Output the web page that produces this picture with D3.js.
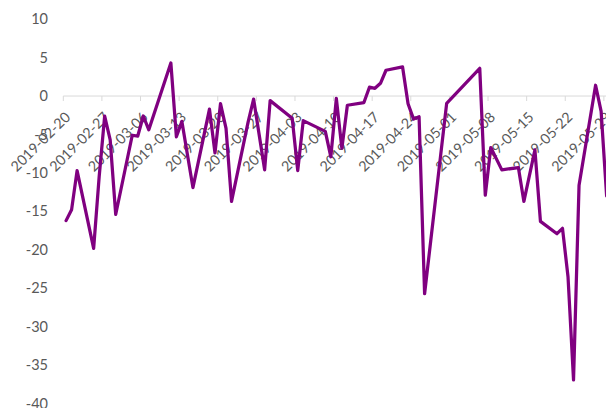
<!DOCTYPE html>
<meta charset="utf-8">
<style>
  body { margin: 0; background: #fff; }
  svg { display: block; }
</style>
<script src="https://d3js.org/d3.v7.min.js"></script>
<div id="chart"></div>
<script>
// data (daily values, trading days)
var dates = ["2019-02-20","2019-02-21","2019-02-22","2019-02-25","2019-02-26","2019-02-27","2019-02-28","2019-03-01",
  "2019-03-04","2019-03-05","2019-03-06","2019-03-07","2019-03-11","2019-03-12","2019-03-13","2019-03-15",
  "2019-03-18","2019-03-19","2019-03-20","2019-03-21","2019-03-22","2019-03-25","2019-03-26","2019-03-28","2019-03-29",
  "2019-04-02","2019-04-03","2019-04-04","2019-04-08","2019-04-09","2019-04-10","2019-04-11","2019-04-12",
  "2019-04-15","2019-04-16","2019-04-17","2019-04-18","2019-04-19","2019-04-22","2019-04-23","2019-04-24","2019-04-25","2019-04-26",
  "2019-04-30","2019-05-06","2019-05-07","2019-05-08","2019-05-10","2019-05-13","2019-05-14","2019-05-16","2019-05-17",
  "2019-05-20","2019-05-21","2019-05-22","2019-05-23","2019-05-24","2019-05-27","2019-05-28","2019-05-29"];
var values = [-16.2,-14.8,-9.7,-19.8,-10.5,-2.6,-5.7,-15.4,
  -5.1,-5.2,-2.6,-4.4,4.3,-5.3,-3.3,-11.9,
  -1.7,-7.4,-1.0,-4.2,-13.7,-3.4,-0.4,-9.6,-0.6,
  -2.9,-9.7,-3.2,-4.6,-7.9,-0.3,-6.8,-1.2,
  -0.85,1.15,1.0,1.65,3.35,3.8,-1.0,-3.0,-2.7,-25.7,
  -0.95,3.6,-12.9,-6.7,-9.6,-9.3,-13.7,-7.0,-16.3,
  -17.9,-17.2,-23.5,-36.9,-11.6,1.4,-2.0,-13.0];
var tickDates = ["2019-02-20","2019-02-27","2019-03-06","2019-03-13","2019-03-20","2019-03-27","2019-04-03",
  "2019-04-10","2019-04-17","2019-04-24","2019-05-01","2019-05-08","2019-05-15","2019-05-22","2019-05-29"];
var yTicks = [10, 5, 0, -5, -10, -15, -20, -25, -30, -35, -40];

var W = 606, H = 408;
var parse = d3.timeParse("%Y-%m-%d");
var halfDay = 12 * 3600 * 1000;

var svg = d3.select("#chart").append("svg")
  .attr("width", W).attr("height", H);

// x: date axis, one slot per day, points in the middle of the slot
var x = d3.scaleTime()
  .domain([parse("2019-02-20"), parse("2019-05-30")])
  .range([63.3, 63.3 + 99 * 5.516]);

var y = d3.scaleLinear()
  .domain([-40, 10])
  .range([403.7, 19.1]);

var font = "Lato, 'Open Sans', sans-serif";

// y labels
svg.append("g").selectAll("text")
  .data(yTicks)
  .enter().append("text")
    .attr("x", 48)
    .attr("y", function(d) { return y(d); })
    .attr("dy", "0.35em")
    .attr("text-anchor", "end")
    .attr("font-family", font)
    .attr("font-size", 14.5)
    .attr("fill", "#595959")
    .text(function(d) { return d; });

// category axis sitting at zero
var y0 = y(0);
svg.append("line")
  .attr("x1", x.range()[0]).attr("x2", x.range()[1])
  .attr("y1", y0).attr("y2", y0)
  .attr("stroke", "#d9d9d9").attr("stroke-width", 1);

var ticks = tickDates.map(parse);
svg.append("g").selectAll("line")
  .data(ticks)
  .enter().append("line")
    .attr("x1", function(d) { return x(d); })
    .attr("x2", function(d) { return x(d); })
    .attr("y1", y0).attr("y2", y0 + 5)
    .attr("stroke", "#d9d9d9");

// rotated date labels
var fmt = d3.timeFormat("%Y-%m-%d");
svg.append("g").selectAll("text")
  .data(ticks)
  .enter().append("text")
    .attr("transform", function(d) {
      return "translate(" + (x(d) + 8) + "," + (y0 + 22) + ")rotate(-45)";
    })
    .attr("text-anchor", "end")
    .attr("font-family", font)
    .attr("font-size", 14.3)
    .attr("fill", "#595959")
    .text(function(d) { return fmt(d); });

// line
var pts = dates.map(function(d, i) { return {date: parse(d), value: values[i]}; });
var line = d3.line()
  .x(function(d) { return x(new Date(+d.date + halfDay)); })
  .y(function(d) { return y(d.value); });

svg.append("path")
  .datum(pts)
  .attr("d", line)
  .attr("fill", "none")
  .attr("stroke", "#800080")
  .attr("stroke-width", 3.25)
  .attr("stroke-linejoin", "round")
  .attr("stroke-linecap", "round");
</script>
